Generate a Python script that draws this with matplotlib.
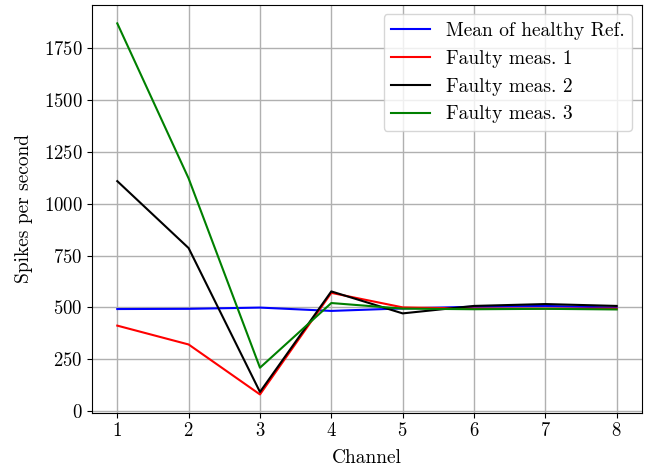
import matplotlib
matplotlib.use("Agg")
import matplotlib.pyplot as plt

plt.rcParams['font.family'] = 'serif'
plt.rcParams['font.serif'] = ['cmr10']
plt.rcParams['mathtext.fontset'] = 'cm'
plt.rcParams['axes.formatter.use_mathtext'] = True
plt.rcParams['axes.unicode_minus'] = False

channels = [1, 2, 3, 4, 5, 6, 7, 8]
healthy_mean = [492, 493, 499, 483, 495, 503, 507, 499]
faulty_1 = [412, 321, 80, 570, 500, 494, 494, 494]
faulty_2 = [1109, 786, 92, 577, 471, 507, 516, 507]
faulty_3 = [1870, 1122, 209, 521, 494, 491, 493, 490]

fig = plt.figure(figsize=(6.51, 4.67), dpi=100)
ax = fig.add_axes([0.1418, 0.1163, 0.8444, 0.8736])
ax.plot(channels, healthy_mean, color='blue', lw=1.5, label='Mean of healthy Ref.')
ax.plot(channels, faulty_1, color='red', lw=1.5, label='Faulty meas. 1')
ax.plot(channels, faulty_2, color='black', lw=1.5, label='Faulty meas. 2')
ax.plot(channels, faulty_3, color='green', lw=1.5, label='Faulty meas. 3')

ax.set_xlim(0.65, 8.355)
ax.set_ylim(-8, 1960)
ax.set_xticks(channels)
ax.set_yticks([0, 250, 500, 750, 1000, 1250, 1500, 1750])
ax.grid(True, color='#b0b0b0', lw=1)
ax.tick_params(labelsize=13.5)
ax.set_xlabel('Channel', fontsize=14, labelpad=6)
ax.set_ylabel('Spikes per second', fontsize=14, labelpad=8)
ax.legend(loc='upper right', fontsize=14)

fig.savefig('out.png', dpi=100)
